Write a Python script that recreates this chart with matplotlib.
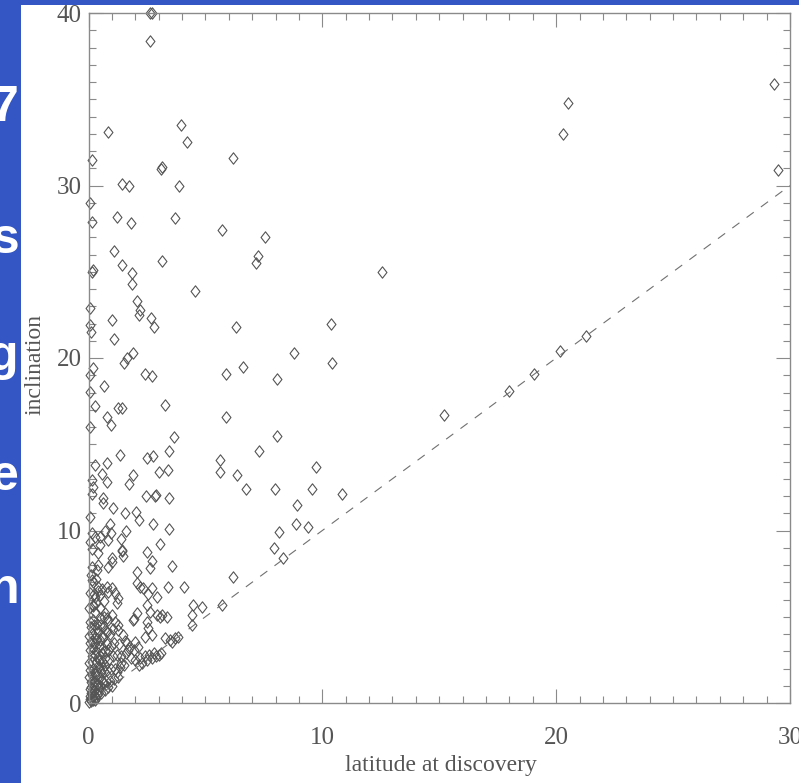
import numpy as np
import matplotlib.pyplot as plt
from matplotlib.path import Path
from matplotlib.patches import Rectangle

# ---- data (latitude at discovery, inclination) ----
lat_outer = [2.70, 2.62, 2.64, 0.82, 3.94, 4.22, 0.16, 6.16, 3.10, 3.15, 1.42, 1.73, 3.87,
             0.06, 0.16, 1.23, 1.80, 3.70, 5.71, 7.54, 7.26, 7.16, 12.56, 1.09, 1.42, 0.16,
             0.18, 3.14, 1.85, 1.85, 4.57, 2.06, 2.20, 2.16, 0.06, 1.02, 2.67, 2.79, 6.29,
             10.36, 0.06, 0.09, 1.09, 1.89, 1.63, 1.52, 8.79, 10.42, 0.21, 0.06, 2.41, 2.70,
             5.86, 6.62, 8.07, 0.68, 0.06,
             29.3, 20.5, 20.3, 29.5, 21.26, 20.15, 19.04, 18.0, 15.2]
inc_outer = [40.0, 40.0, 38.4, 33.1, 33.5, 32.5, 31.5, 31.6, 30.95, 31.1, 30.1, 30.0, 30.0,
             29.0, 27.9, 28.2, 27.8, 28.1, 27.4, 27.0, 25.9, 25.5, 25.0, 26.2, 25.4, 25.0,
             25.1, 25.6, 24.9, 24.3, 23.9, 23.3, 22.8, 22.5, 22.9, 22.2, 22.3, 21.8, 21.8,
             22.0, 21.9, 21.5, 21.1, 20.3, 20.0, 19.7, 20.3, 19.7, 19.4, 19.0, 19.07, 18.97,
             19.1, 19.5, 18.8, 18.4, 18.05,
             35.9, 34.8, 33.0, 30.9, 21.3, 20.4, 19.1, 18.1, 16.7]

lat_mid = [0.28, 1.27, 1.42, 3.27, 0.78, 0.96, 0.06, 5.86, 3.67, 8.08, 3.43, 7.30, 1.35,
           0.28, 0.80, 2.49, 2.76, 5.61, 5.61, 9.75, 3.00, 3.38, 0.56, 0.14, 0.21, 0.80,
           1.89, 1.73, 6.35, 6.73, 7.98, 9.55, 0.14, 0.61, 2.46, 2.84, 2.90, 3.44, 10.82,
           8.90, 8.87, 9.39, 8.14, 7.94, 8.33,
           0.63, 1.06, 1.56, 2.03, 2.17, 2.77, 3.45, 0.06, 0.92, 0.14, 0.28, 0.49, 0.70,
           0.96, 0.06, 0.49, 0.85, 1.38, 1.60, 3.06, 1.42, 1.45, 2.51, 0.14, 0.42, 0.99]
inc_mid = [17.2, 17.1, 17.1, 17.3, 16.6, 16.1, 16.0, 16.6, 15.4, 15.5, 14.6, 14.6, 14.4,
           13.8, 13.9, 14.2, 14.3, 14.1, 13.4, 13.7, 13.4, 13.5, 13.3, 12.9, 12.5, 12.8,
           13.2, 12.7, 13.2, 12.4, 12.4, 12.4, 12.1, 11.9, 12.0, 12.0, 12.05, 11.9, 12.1,
           11.5, 10.4, 10.2, 9.93, 8.97, 8.39,
           11.6, 11.3, 11.0, 11.1, 10.6, 10.4, 10.1, 10.8, 10.4, 9.84, 9.64, 9.64, 10.0,
           9.84, 9.35, 9.16, 9.45, 9.49, 10.0, 9.2, 8.8, 8.85, 8.77, 8.9, 8.7, 8.39]

lat_low = [0.99, 0.85, 0.42, 0.14, 0.35, 1.46, 2.70, 2.63, 3.56, 2.06, 6.19, 2.06, 2.34,
           2.20, 2.70, 2.56, 2.91, 3.41, 4.09, 0.14, 0.42, 0.78, 0.85, 1.13, 1.27, 1.21,
           0.99, 0.28, 0.49, 0.21, 0.28, 4.48, 4.86, 5.69, 4.41, 4.41, 0.71, 1.13, 1.27,
           0.78, 0.78, 0.63, 2.06, 1.91, 1.95, 2.49, 2.63, 2.91, 3.06, 3.34, 3.13, 2.49,
           2.56, 2.41, 2.70, 3.27, 3.48, 3.70, 3.84, 3.56, 1.27, 1.49, 1.63, 1.70, 1.99,
           2.13,
           2.00, 2.20, 2.40, 2.60, 2.80, 2.30, 2.50, 2.70, 2.90, 3.00, 3.10, 2.15]
inc_low = [8.19, 7.9, 8.0, 7.9, 7.7, 8.5, 8.23, 7.8, 7.96, 7.6, 7.29, 6.94, 6.65,
           6.74, 6.65, 6.32, 6.16, 6.7, 6.7, 7.13, 6.74, 6.74, 6.45, 6.36, 6.07, 5.78,
           6.65, 6.16, 6.26, 5.68, 5.29, 5.68, 5.58, 5.68, 5.1, 4.52, 5.2, 4.71, 4.52,
           4.91, 4.13, 4.42, 5.2, 4.81, 4.85, 5.68, 5.29, 5.1, 5.0, 5.0, 5.1, 4.71,
           4.33, 3.84, 3.94, 3.75, 3.65, 3.75, 3.84, 3.55, 4.23, 3.94, 3.46, 3.07, 3.55,
           3.26,
           2.5, 2.6, 2.7, 2.8, 2.9, 2.3, 2.5, 2.6, 2.7, 2.8, 2.9, 2.2]

# dense pile next to the origin
lat_core = [0.02, 0.10, 0.20, 0.30, 0.05, 0.15, 0.25, 0.40, 0.55, 0.70, 0.85, 1.00,
            0.05, 0.12, 0.22, 0.35, 0.48, 0.60, 0.75, 0.90, 1.10, 1.25,
            0.03, 0.14, 0.26, 0.38, 0.52, 0.66, 0.80, 0.95, 1.15, 1.35, 1.50,
            0.04, 0.16, 0.30, 0.45, 0.58, 0.72, 0.88, 1.05, 1.20, 1.40, 1.60, 1.80,
            0.06, 0.18, 0.32, 0.46, 0.62, 0.78, 0.95, 1.10, 1.30, 1.55, 1.75, 1.95,
            0.03, 0.14, 0.28, 0.42, 0.58, 0.74, 0.90, 1.05,
            0.05, 0.20, 0.36, 0.52, 0.68, 0.85, 1.00,
            0.04, 0.18, 0.34, 0.50, 0.66,
            0.08, 0.24, 0.40, 0.56, 0.10, 0.30, 0.20,
            0.08, 0.18, 0.28, 0.12, 0.22, 0.35, 0.45, 0.10, 0.25, 0.40, 0.55, 0.65,
            0.08, 0.20, 0.32, 0.44, 0.60, 0.72, 0.15, 0.28, 0.42, 0.56, 0.70, 0.84,
            0.06, 0.16, 0.26, 0.38, 0.50, 0.62, 0.12, 0.24, 0.36, 0.48, 1.20, 1.40]
inc_core = [0.05, 0.10, 0.20, 0.30, 0.40, 0.50, 0.45, 0.55, 0.60, 0.75, 0.90, 1.00,
            0.80, 0.90, 1.00, 1.10, 1.00, 1.20, 1.25, 1.30, 1.40, 1.50,
            1.50, 1.60, 1.70, 1.65, 1.80, 1.85, 1.90, 2.00, 2.00, 2.10, 2.20,
            2.30, 2.40, 2.35, 2.50, 2.45, 2.60, 2.55, 2.70, 2.80, 2.75, 2.90, 2.60,
            3.10, 3.20, 3.00, 3.30, 3.20, 3.40, 3.30, 3.50, 3.40, 3.60, 3.20, 3.10,
            3.90, 4.00, 3.80, 4.10, 3.90, 4.20, 4.00, 4.30,
            4.70, 4.80, 4.60, 4.90, 5.00, 4.80, 5.10,
            5.50, 5.60, 5.80, 5.50, 5.90,
            6.40, 6.30, 6.50, 6.60, 7.40, 7.20, 7.00,
            0.25, 0.35, 0.15, 0.60, 0.70, 0.50, 0.80, 1.20, 1.30, 1.10, 1.35, 1.15,
            1.90, 2.00, 1.85, 2.10, 2.05, 2.20, 2.70, 2.80, 2.65, 2.90, 3.00, 3.05,
            3.50, 3.60, 3.45, 3.70, 3.65, 3.80, 4.40, 4.50, 4.35, 4.55, 1.80, 2.30]

lat = np.array(lat_outer + lat_mid + lat_low + lat_core)
inc = np.array(inc_outer + inc_mid + inc_low + inc_core)

# cropped slide text at the left border
slide_chars = ["7", "s", "g", "e", "n"]
slide_char_y = [108, 240, 357, 477, 590]   # pixel rows from top

W, H = 799, 783
BLUE = "#3356c4"
INK = "#555555"

fig = plt.figure(figsize=(W / 100, H / 100), dpi=100, facecolor=BLUE)

for ch, yy in zip(slide_chars, slide_char_y):
    fig.text(19 / W, 1 - yy / H, ch, color="white", fontsize=36, fontweight="bold",
             family="Liberation Sans", ha="right", va="center", zorder=-3)

fig.add_artist(Rectangle((21 / W, 0), 1, 1 - 5 / H, transform=fig.transFigure,
                         facecolor="white", edgecolor="none", zorder=-2))

ax = fig.add_axes([88.5 / W, 1 - 703 / H, (790 - 88.5) / W, (703 - 13) / H])
ax.set_facecolor("white")

diamond = Path([(0, 1), (0.78, 0), (0, -1), (-0.78, 0), (0, 1)],
               [Path.MOVETO, Path.LINETO, Path.LINETO, Path.LINETO, Path.CLOSEPOLY])

ax.plot(lat, inc, linestyle="none", marker=diamond, markersize=8.2,
        markerfacecolor="none", markeredgecolor=INK, markeredgewidth=0.8, clip_on=False)

line, = ax.plot([0, 30], [0, 30], color="#707070", linewidth=0.8)
line.set_dashes((8, 8))

ax.set_xlim(0, 30)
ax.set_ylim(0, 40)
ax.set_xticks([0, 10, 20, 30])
ax.set_yticks([0, 10, 20, 30, 40])
ax.set_xticks(np.arange(0, 31, 1), minor=True)
ax.set_yticks(np.arange(0, 41, 1), minor=True)

for s in ax.spines.values():
    s.set_color("#8a8a8a")
    s.set_linewidth(1.0)

ax.tick_params(which="both", direction="in", top=True, right=True, color="#8a8a8a",
               width=0.8, labelsize=18, labelcolor=INK)
ax.tick_params(axis="x", which="major", length=10, pad=17)
ax.tick_params(axis="y", which="major", length=10, pad=5)
ax.tick_params(which="minor", length=5)
for lab in ax.get_xticklabels() + ax.get_yticklabels():
    lab.set_family("Liberation Serif")

ax.set_xlabel("latitude at discovery", fontsize=17, color=INK, family="Liberation Serif")
ax.set_ylabel("inclination", fontsize=17, color=INK, family="Liberation Serif")
ax.xaxis.set_label_coords(0.503, -0.076)
ax.yaxis.set_label_coords(-0.062, 0.49)

fig.savefig("out.png", dpi=100, facecolor=BLUE)
